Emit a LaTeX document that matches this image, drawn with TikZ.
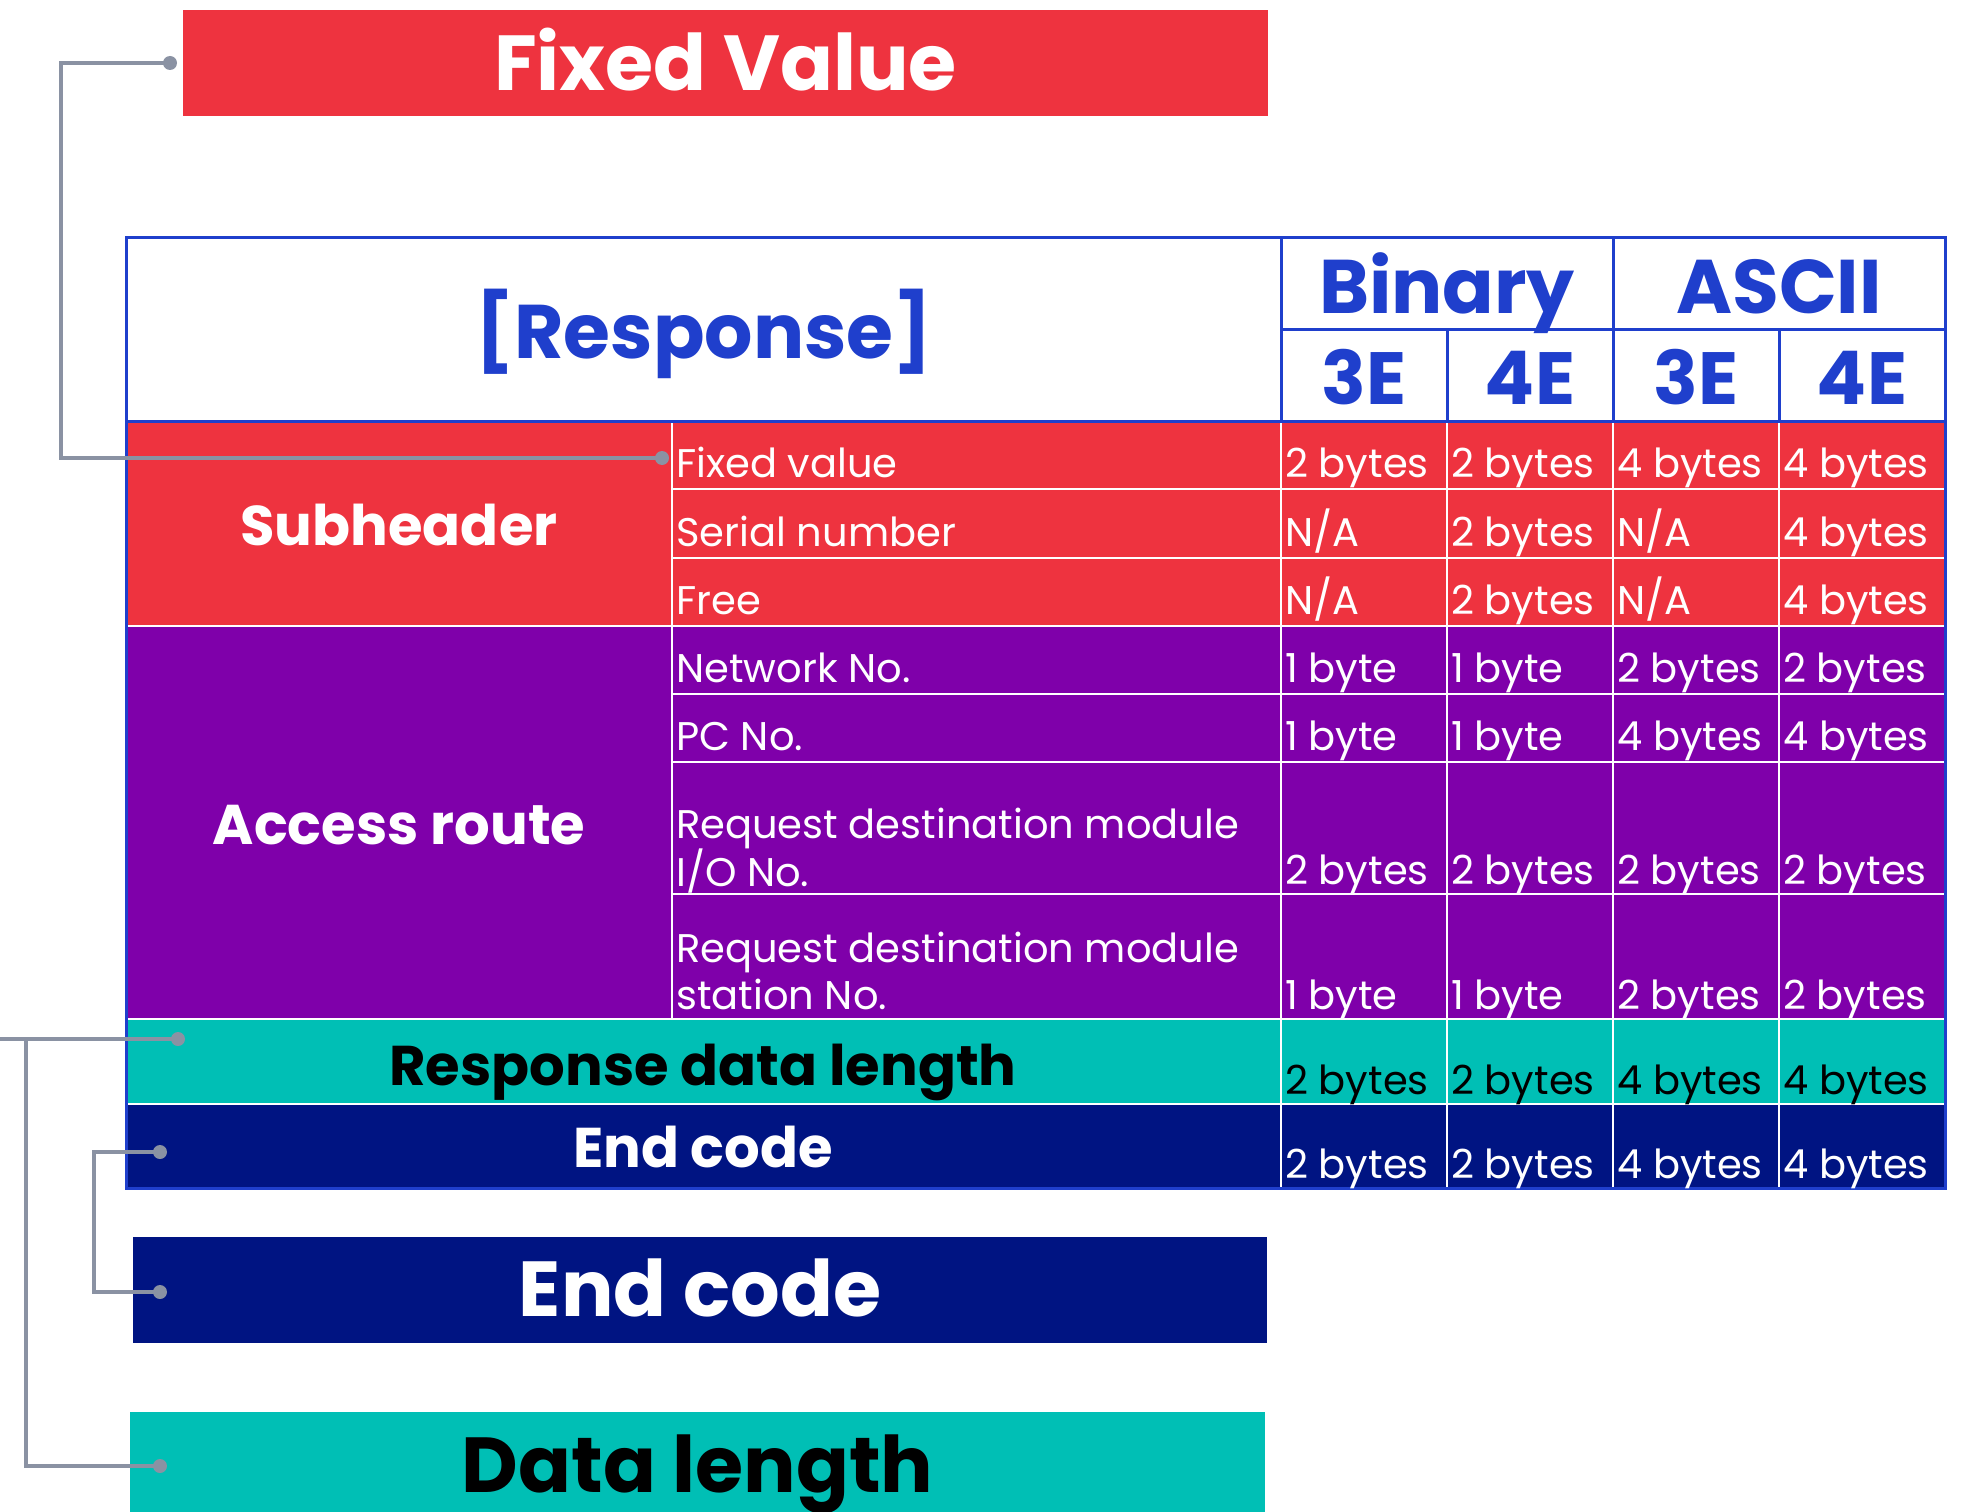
\documentclass[tikz,border=0pt]{standalone}
\usepackage{fontspec}
\setmainfont{Poppins}
\definecolor{subred}{HTML}{EE333F}
\definecolor{accpurple}{HTML}{7F00AA}
\definecolor{dlteal}{HTML}{00BFB5}
\definecolor{ecnavy}{HTML}{001482}
\definecolor{hdrblue}{HTML}{1F3FCC}
\definecolor{wiregray}{HTML}{8A92A3}
% four value cells of one row, baseline #2
\newcommand\datarow[6]{%
  \node[cell] (#1-1) at (1285,#2) {#3};
  \node[cell] (#1-2) at (1451,#2) {#4};
  \node[cell] (#1-3) at (1617,#2) {#5};
  \node[cell] (#1-4) at (1783,#2) {#6};}
\begin{document}
\begin{tikzpicture}[x=1bp,y=-1bp,
  cell/.style={anchor=base west, inner sep=0pt, text=white, font=\fontsize{40bp}{48bp}\selectfont},
  grouplabel/.style={anchor=base, inner sep=0pt, text=white, font=\bfseries\fontsize{56bp}{60bp}\selectfont},
  head/.style={anchor=base, inner sep=0pt, text=hdrblue, font=\bfseries\fontsize{76bp}{80bp}\selectfont},
  subhead/.style={head, font=\bfseries\fontsize{74bp}{80bp}\selectfont},
  banner/.style={anchor=base, inner sep=0pt, font=\bfseries\fontsize{78bp}{80bp}\selectfont},
  wire/.style={draw=wiregray, line width=3.8bp},
  gridw/.style={draw=white, line width=2.5bp},
  gridb/.style={draw=hdrblue, line width=3bp}]
\useasboundingbox (0,0) rectangle (1978,1512);

% banners
\fill[subred] (183,10) rectangle (1268,116);
\node[banner, text=white] (fixedtitle) at (725.5,91) {Fixed Value};
\fill[ecnavy] (133,1237) rectangle (1267,1343);
\node[banner, text=white] (endtitle) at (700,1316) {End code};
\fill[dlteal] (130,1412) rectangle (1265,1512);
\node[banner, text=black] (lentitle) at (697.5,1492) {Data length};

% table body
\fill[white] (126,238) rectangle (1945,421);
\fill[subred] (126,421) rectangle (1945,626);
\fill[accpurple] (126,626) rectangle (1945,1019);
\fill[dlteal] (126,1019) rectangle (1945,1104);
\fill[ecnavy] (126,1104) rectangle (1945,1188);

% white grid
\draw[gridw] (672,421) -- (672,1019);
\foreach \x in {1281,1447,1613,1779} \draw[gridw] (\x,421) -- (\x,1188);
\foreach \y in {489,558,694,762,894} \draw[gridw] (672,\y) -- (1945,\y);
\foreach \y in {626,1019,1104} \draw[gridw] (126,\y) -- (1945,\y);

% header lines and frame
\draw[gridb] (1281,238) -- (1281,421);
\draw[gridb] (1613,238) -- (1613,421);
\draw[gridb] (1281,329) -- (1945,329);
\draw[gridb] (1447,329) -- (1447,421);
\draw[gridb] (1779,329) -- (1779,421);
\draw[gridb] (126,421) -- (1945,421);
\draw[gridb] (126,238) rectangle (1945,1188);

% header texts
\node[head] (resp) at (704,358) {[Response]};
\node[head] (bin) at (1447,313) {Binary};
\node[head] (asc) at (1779,313) {ASCII};
\node[subhead] (b3) at (1364,404) {3E};
\node[subhead] (b4) at (1530,404) {4E};
\node[subhead] (a3) at (1696,404) {3E};
\node[subhead] (a4) at (1862,404) {4E};

% group labels
\node[grouplabel] (sub) at (399,545) {Subheader};
\node[grouplabel] (acc) at (399,844) {Access route};
\node[grouplabel, text=black] (rdl) at (703,1085) {Response data length};
\node[grouplabel] (ecrow) at (703,1167) {End code};

% field names
\node[cell] (f1) at (676,477) {Fixed value};
\node[cell] (f2) at (676,546) {Serial number};
\node[cell] (f3) at (676,614) {Free};
\node[cell] (f4) at (676,682) {Network No.};
\node[cell] (f5) at (676,750) {PC No.};
\node[cell] (f6) at (676,838) {Request destination module};
\node[cell] (f6b) at (676,886) {I/O No.};
\node[cell] (f7) at (676,962) {Request destination module};
\node[cell] (f7b) at (676,1009) {station No.};

% values
\datarow{r1}{477}{2 bytes}{2 bytes}{4 bytes}{4 bytes}
\datarow{r2}{546}{N/A}{2 bytes}{N/A}{4 bytes}
\datarow{r3}{614}{N/A}{2 bytes}{N/A}{4 bytes}
\datarow{r4}{682}{1 byte}{1 byte}{2 bytes}{2 bytes}
\datarow{r5}{750}{1 byte}{1 byte}{4 bytes}{4 bytes}
\datarow{r6}{884}{2 bytes}{2 bytes}{2 bytes}{2 bytes}
\datarow{r7}{1009}{1 byte}{1 byte}{2 bytes}{2 bytes}
\begin{scope}[cell/.append style={text=black}]
\datarow{r8}{1094}{2 bytes}{2 bytes}{4 bytes}{4 bytes}
\end{scope}
\datarow{r9}{1178}{2 bytes}{2 bytes}{4 bytes}{4 bytes}

% connectors with round end pins
\coordinate (fvA) at (170,63);
\coordinate (fvB) at (662,458);
\coordinate (rdlA) at (178,1039);
\coordinate (dlA) at (160,1466);
\coordinate (ecA) at (160,1152);
\coordinate (ecB) at (160,1292);
\coordinate (edgeL) at (0,1039);
\draw[wire] (fvA) -- ++(-109,0) |- (fvB);
\draw[wire] (rdlA) -- (edgeL);
\draw[wire] (rdlA) -- ++(-152,0) |- (dlA);
\draw[wire] (ecA) -- ++(-66,0) |- (ecB);
\foreach \d in {fvA,fvB,rdlA,dlA,ecA,ecB} \fill[wiregray] (\d) circle (7bp);
\end{tikzpicture}
\end{document}
